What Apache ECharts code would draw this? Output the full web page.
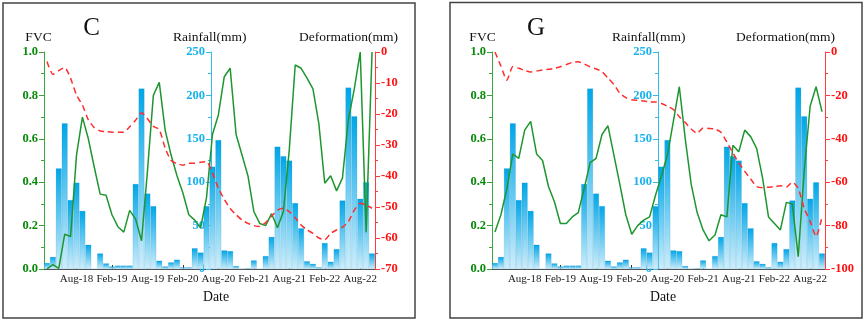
<!DOCTYPE html>
<html><head><meta charset="utf-8">
<script src="https://cdn.jsdelivr.net/npm/echarts@6/dist/echarts.min.js"></script>
<style>html,body{margin:0;padding:0;background:#fff}#chart{width:865px;height:321px}</style>
</head><body><div id="chart"></div>
<script>
const months = ['Mar-18','Apr-18','May-18','Jun-18','Jul-18','Aug-18','Sep-18','Oct-18','Nov-18','Dec-18','Jan-19','Feb-19',
'Mar-19','Apr-19','May-19','Jun-19','Jul-19','Aug-19','Sep-19','Oct-19','Nov-19','Dec-19','Jan-20','Feb-20',
'Mar-20','Apr-20','May-20','Jun-20','Jul-20','Aug-20','Sep-20','Oct-20','Nov-20','Dec-20','Jan-21','Feb-21',
'Mar-21','Apr-21','May-21','Jun-21','Jul-21','Aug-21','Sep-21','Oct-21','Nov-21','Dec-21','Jan-22','Feb-22',
'Mar-22','Apr-22','May-22','Jun-22','Jul-22','Aug-22','Sep-22','Oct-22'];
const rainfall = [7,14,116,168,79.5,99.5,67,28,0,18,6.5,3,4,4,4,98,208,87,72.5,9.6,3,7.7,10.8,2,2,24,19,72.5,
118,148.6,21.5,20.7,3.5,0.5,1,10,0,15,37,141,130,125,76,47,9,6,2,30,8.4,23,79,209,176,81,100,18];
const fvcC = [0.0,0.02,0.003,0.16,0.15,0.525,0.70,0.60,0.47,0.345,0.34,0.25,0.195,0.17,0.27,0.23,0.13,0.45,0.80,0.86,0.64,0.525,0.43,0.35,0.25,0.225,0.19,0.33,
0.62,0.71,0.886,0.925,0.62,0.525,0.43,0.265,0.21,0.2,0.255,0.19,0.265,0.55,0.94,0.925,0.88,0.83,0.67,0.395,0.43,0.36,0.42,0.69,0.83,1.0,0.17,1.0];
const defC = [-3.1,-7.2,-6,-5,-8.5,-13.9,-17.1,-21.9,-24.4,-25.5,-25.7,-25.9,-25.9,-25.9,-24.1,-22,-19.6,-21.5,-24,-25,-31,-35,-36,-36.5,-35.9,-35.9,-35.6,-35.4,
-39,-44,-47.5,-50.5,-52.5,-54.2,-55.3,-56,-56.3,-55,-53,-51,-50.4,-51.5,-53.5,-55.8,-57.4,-58.5,-60,-60.6,-58.5,-57.4,-56.5,-54.7,-51,-48.8,-49.4,-50.4];
const fvcG = [0.17,0.25,0.37,0.53,0.51,0.64,0.68,0.53,0.50,0.38,0.31,0.21,0.21,0.24,0.26,0.37,0.49,0.51,0.62,0.66,0.525,0.39,0.25,0.16,0.20,0.225,0.24,0.34,
0.43,0.525,0.68,0.84,0.60,0.39,0.26,0.18,0.13,0.157,0.25,0.24,0.57,0.54,0.64,0.61,0.556,0.42,0.24,0.21,0.18,0.307,0.30,0.057,0.45,0.75,0.84,0.725];
const defG = [0,-6.5,-13,-6.8,-7.5,-8.5,-9.2,-8.8,-8.3,-8,-7.5,-6.8,-5.8,-4.8,-4.5,-5.5,-6.8,-7.8,-9.1,-12,-15,-19,-21,-22,-22.3,-22.6,-23,-23,
-23.7,-25,-26.5,-29.8,-32.5,-35.5,-37.5,-35,-35.2,-35.5,-37,-41.5,-46.5,-51,-55,-58.5,-62,-62.5,-62.3,-62,-61.6,-62.3,-60,-62.8,-72,-78,-85,-76];
const panelLetters = ['C','G'];
const defMin = [-70,-100];
const defInterval = [10,20];

const FONT = 'Liberation Serif';
const chart = echarts.init(document.getElementById('chart'), null, {renderer:'canvas'});
const grids = [
  {left:44, right:490, top:52, bottom:52},
  {left:492, right:40, top:52, bottom:52}
];
const rainOffset = [-167,-166];
const showIdx = (i) => i % 6 === 5;
const xAxes = [], yAxes = [], series = [];
const fvcData = [fvcC, fvcG];
const defData = [defC, defG];
function lbl(color, bold, size) {
  return {color:color, fontWeight:bold ? 'bold' : 'normal', fontSize:size, fontFamily:FONT};
}
for (let g = 0; g < 2; g++) {
  xAxes.push({
    type:'category', gridIndex:g, data:months, boundaryGap:true,
    axisLine:{show:true, lineStyle:{color:'#555', width:1}},
    axisTick:{show:true, inside:true, length:4, alignWithLabel:true, interval:(i)=>showIdx(i), lineStyle:{color:'#333'}},
    axisLabel:Object.assign(lbl('#222', false, 11), {interval:(i)=>showIdx(i), margin:5}),
    splitLine:{show:false}
  });
  const yb = yAxes.length;
  yAxes.push({
    type:'value', gridIndex:g, position:'left', min:0, max:1, interval:0.2,
    axisLine:{show:true, lineStyle:{color:'#3aa63a', width:1}},
    axisTick:{show:true, length:5, lineStyle:{color:'#3aa63a'}},
    minorTick:{show:true, splitNumber:2, length:3, lineStyle:{color:'#3aa63a'}},
    axisLabel:Object.assign(lbl('#0a8a0a', true, 12.5), {formatter:(v)=>v.toFixed(1), margin:6}),
    splitLine:{show:false}
  });
  yAxes.push({
    type:'value', gridIndex:g, position:'left', offset:rainOffset[g], min:0, max:250, interval:50,
    axisLine:{show:true, lineStyle:{color:'#33bbee', width:1}},
    axisTick:{show:true, length:5, lineStyle:{color:'#33bbee'}},
    minorTick:{show:true, splitNumber:2, length:3, lineStyle:{color:'#33bbee'}},
    axisLabel:Object.assign(lbl('#1ab2ee', true, 12.5), {margin:6}),
    splitLine:{show:false}
  });
  yAxes.push({
    type:'value', gridIndex:g, position:'right', min:defMin[g], max:0, interval:defInterval[g],
    axisLine:{show:true, lineStyle:{color:'#ff3b3b', width:1}},
    axisTick:{show:true, length:5, lineStyle:{color:'#ff3b3b'}},
    minorTick:{show:true, splitNumber:2, length:3, lineStyle:{color:'#ff3b3b'}},
    axisLabel:Object.assign(lbl('#ff1111', true, 12.5), {margin:6}),
    splitLine:{show:false}
  });
  series.push({
    type:'bar', xAxisIndex:g, yAxisIndex:yb+1, data:rainfall, barCategoryGap:'0%',
    itemStyle:{color:new echarts.graphic.LinearGradient(0,0,0,1,[{offset:0,color:'#00a6e8'},{offset:1,color:'#cdeefc'}]),
      borderColor:'rgba(0,110,160,0.25)', borderWidth:0.5},
    z:1, silent:true
  });
  series.push({
    type:'line', xAxisIndex:g, yAxisIndex:yb, data:fvcData[g], symbol:'none',
    lineStyle:{color:'#1e9630', width:1.5}, z:3, silent:true
  });
  series.push({
    type:'line', xAxisIndex:g, yAxisIndex:yb+2, data:defData[g], symbol:'none', smooth:0.2,
    lineStyle:{color:'#ff2d2d', width:1.5, type:[6,4]}, z:4, silent:true
  });
}

function txt(x, y, text, size) {
  return {type:'text', x:x, y:y, silent:true, z:100,
    style:{text:text, fontFamily:FONT, fontSize:size, fill:'#111', textAlign:'center', textVerticalAlign:'middle', align:'center', verticalAlign:'middle'}};
}
const graphic = [
  {type:'rect', shape:{x:3, y:3, width:412, height:315}, style:{fill:'none', stroke:'#444', lineWidth:1.5}, silent:true, z:100},
  {type:'rect', shape:{x:450, y:2.5, width:412, height:315.5}, style:{fill:'none', stroke:'#444', lineWidth:1.5}, silent:true, z:100},
  txt(38.5, 37.5, 'FVC', 13.5),
  txt(91.5, 28.6, panelLetters[0], 25),
  txt(209.7, 37.5, 'Rainfall(mm)', 13.5),
  txt(348.4, 37.8, 'Deformation(mm)', 13.5),
  txt(216, 297, 'Date', 13.8),
  txt(482.5, 37.5, 'FVC', 13.5),
  txt(536, 28.6, panelLetters[1], 25),
  txt(648.7, 37.5, 'Rainfall(mm)', 13.5),
  txt(785.5, 37.8, 'Deformation(mm)', 13.5),
  txt(663, 297, 'Date', 13.8)
];

chart.setOption({
  animation:false,
  backgroundColor:'#ffffff',
  textStyle:{fontFamily:FONT},
  grid:grids,
  xAxis:xAxes,
  yAxis:yAxes,
  series:series,
  graphic:graphic
});
</script></body></html>
